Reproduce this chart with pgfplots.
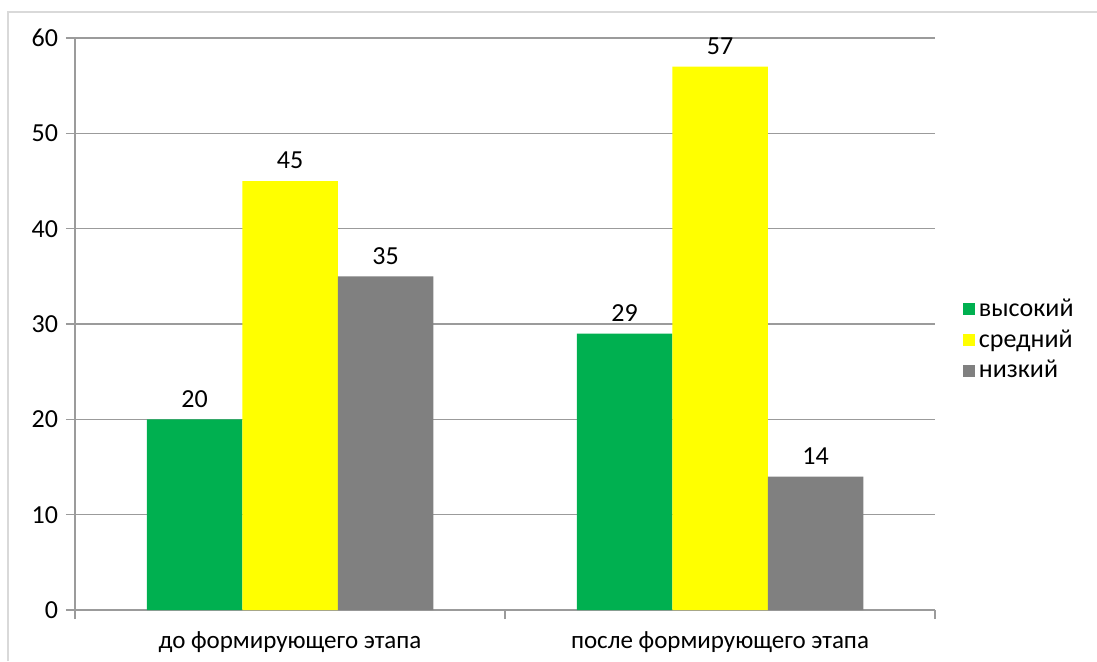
\documentclass[border=0pt]{standalone}
\usepackage{fontspec}
\setmainfont{Carlito}
\usepackage{pgfplots}
\pgfplotsset{compat=1.18}

\definecolor{cgreen}{RGB}{0,176,80}
\definecolor{cyellow}{RGB}{255,255,0}
\definecolor{cgray}{RGB}{128,128,128}
\definecolor{gridc}{RGB}{155,155,155}
\definecolor{framec}{RGB}{217,217,217}

\begin{document}
\begin{tikzpicture}
\path[use as bounding box] (0,0) rectangle (548.5pt,330.5pt);
\draw[framec, line width=0.6pt] (4pt,0) -- (4pt,324.5pt) -- (548.5pt,324.5pt);
\begin{axis}[
    at={(37.5pt,25.5pt)}, anchor=south west,
    scale only axis, width=430pt, height=286pt,
    font=\fontsize{13}{15}\selectfont,
    /pgf/number format/assume math mode=true,
    ybar=0pt, bar width=47.75pt,
    xmin=-0.5, xmax=1.5, ymin=0, ymax=60,
    ytick={0,10,...,60},
    xtick={-0.5,0.5,1.5}, xticklabels={},
    x tick style={gridc, line width=0.6pt},
    extra x ticks={0,1},
    extra x tick labels={до формирующего этапа, после формирующего этапа},
    extra x tick style={tick style={draw=none}, grid=none,
        xticklabel style={yshift=-3pt, font=\fontsize{12.5}{15}\selectfont}},
    y tick style={gridc, line width=0.6pt},
    tick align=outside, major tick length=4.5pt,
    yticklabel style={xshift=-0.5pt},
    ymajorgrids, grid style={gridc, line width=0.6pt},
    axis x line*=bottom, axis y line*=left,
    axis line style={gridc, line width=0.6pt, -},
    nodes near coords, every node near coord/.append style={font=\fontsize{13}{15}\selectfont, yshift=2.5pt},
    legend style={at={(1.025,0.472)}, anchor=west, draw=none, font=\fontsize{13}{15}\selectfont, row sep=1pt, cells={anchor=west}},
    legend image code/.code={\fill[#1] (0pt,-3pt) rectangle (6pt,3pt);},
]
\addplot[fill=cgreen, draw=none] coordinates {(0,20) (1,29)};
\addplot[fill=cyellow, draw=none] coordinates {(0,45) (1,57)};
\addplot[fill=cgray, draw=none] coordinates {(0,35) (1,14)};
\legend{высокий, средний, низкий}
\end{axis}
\end{tikzpicture}
\end{document}
